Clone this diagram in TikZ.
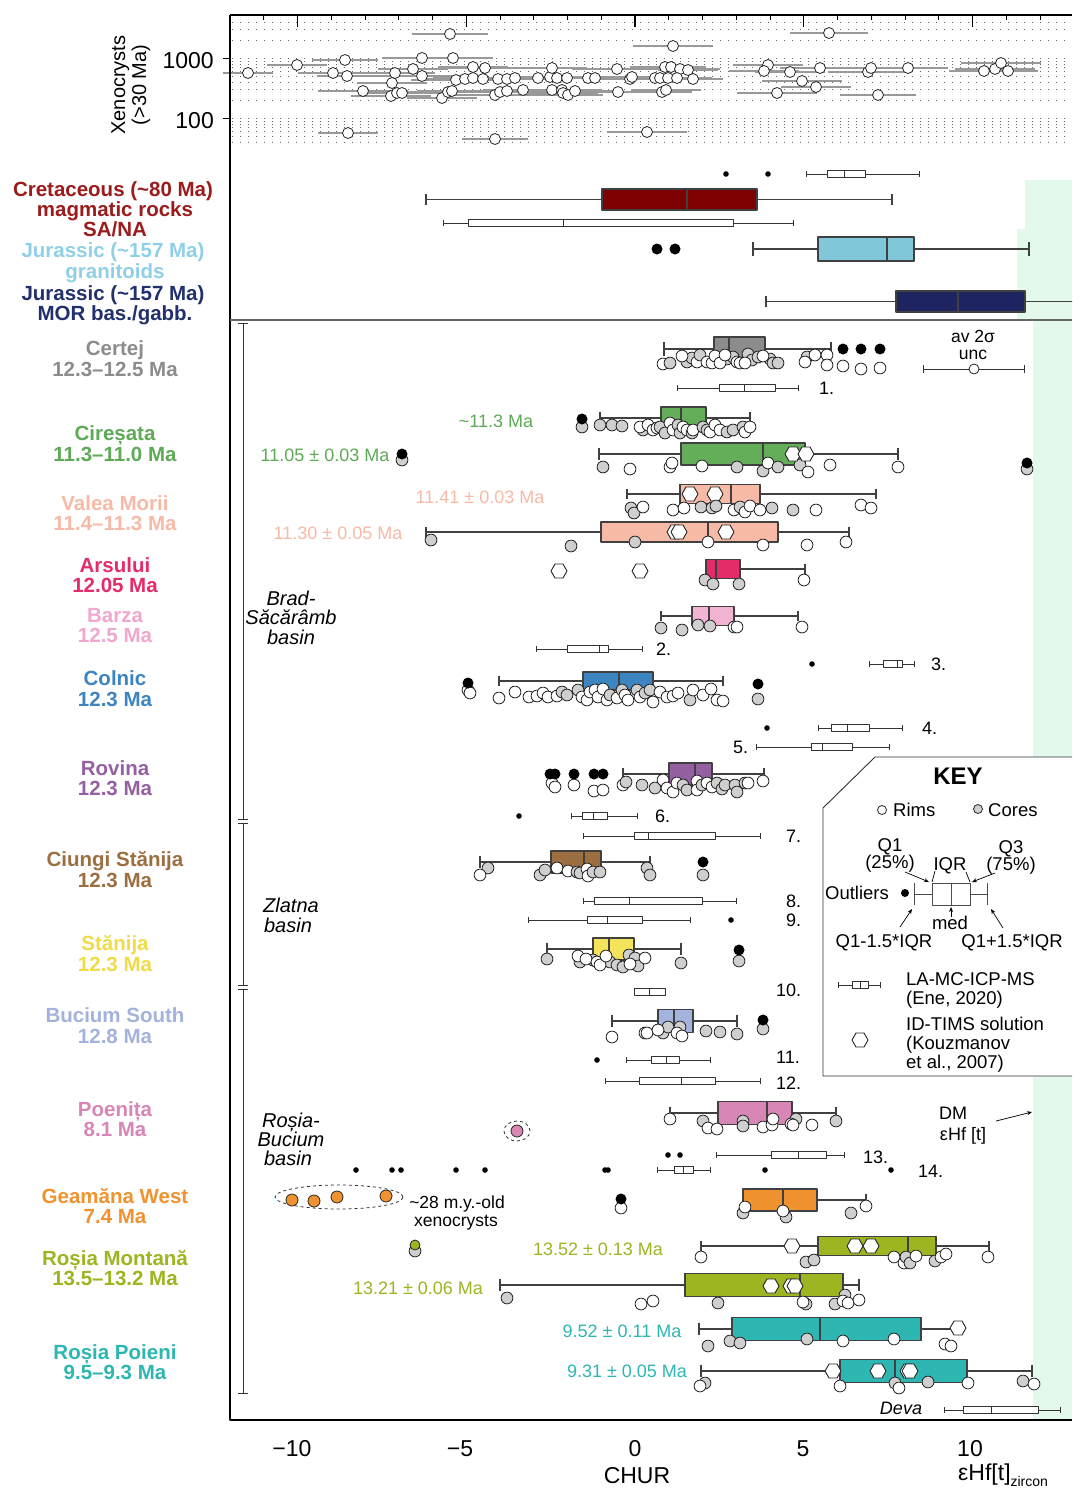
\documentclass[tikz,border=0pt]{standalone}
\usepackage{fontspec}
\setmainfont{Liberation Sans}
\usetikzlibrary{arrows.meta}
\definecolor{g}{HTML}{CFCFCF}
\colorlet{w}{white}
\definecolor{band}{HTML}{E2F9EC}
\definecolor{cCertej}{HTML}{8C8C8C}
\definecolor{cCir}{HTML}{64AD59}
\definecolor{tCir}{HTML}{5EAA56}
\definecolor{cVal}{HTML}{F6BAA6}
\definecolor{cArs}{HTML}{E42D68}
\definecolor{cBar}{HTML}{F3B4D4}
\definecolor{tBar}{HTML}{F0A8CE}
\definecolor{cCol}{HTML}{3D85C0}
\definecolor{cRov}{HTML}{9560A2}
\definecolor{cCiu}{HTML}{9D6E40}
\definecolor{cSta}{HTML}{F3E45C}
\definecolor{tSta}{HTML}{F0DC48}
\definecolor{cBuc}{HTML}{A3B3DD}
\definecolor{cPoe}{HTML}{D786B6}
\definecolor{cGea}{HTML}{F0922F}
\definecolor{cRM}{HTML}{9DB521}
\definecolor{cRP}{HTML}{2EB6B3}
\definecolor{cCre}{HTML}{7F0000}
\definecolor{tCre}{HTML}{9B1C1C}
\definecolor{cJg}{HTML}{80C7DA}
\definecolor{tJg}{HTML}{8FD0E6}
\definecolor{cJm}{HTML}{1D2460}
\definecolor{tJm}{HTML}{22306E}
\tikzset{
  T/.style={inner sep=0pt, anchor=base, font=\fontsize{#1}{#1}\selectfont},
  B/.style={inner sep=0pt, anchor=base, font=\fontsize{#1}{#1}\selectfont\bfseries},
  It/.style={inner sep=0pt, anchor=base, font=\fontsize{#1}{#1}\selectfont\itshape},
  bpl/.style={draw=black!75, line width=1.1pt},
  lal/.style={draw=black!80, line width=0.8pt},
  pt/.style={draw=black!85, line width=0.8pt},
  hx/.style={draw=black!85, line width=0.9pt, fill=white},
  axisline/.style={draw=black, line width=1.2pt},
  gridl/.style={draw=black!60, line width=0.9pt, dash pattern=on 1pt off 7pt},
  xbar/.style={draw=black!40, line width=1.8pt},
  thinarrow/.style={draw=black, line width=0.7pt, -{Stealth[length=5pt,width=4pt]}}
}
\newcommand\mybp[8]{%
  \draw[bpl] (#2,#1) -- (#3,#1) (#5,#1) -- (#6,#1)
    (#2,{#1-#7*0.55}) -- (#2,{#1+#7*0.55}) (#6,{#1-#7*0.55}) -- (#6,{#1+#7*0.55});
  \draw[bpl, fill=#8] (#3,{#1-#7}) rectangle (#5,{#1+#7});
  \draw[bpl] (#4,{#1-#7}) -- (#4,{#1+#7});}
\newcommand\myla[6]{%
  \draw[lal] (#2,#1) -- (#3,#1) (#5,#1) -- (#6,#1)
    (#2,{#1-2.6}) -- (#2,{#1+2.6}) (#6,{#1-2.6}) -- (#6,{#1+2.6});
  \draw[lal, fill=white] (#3,{#1-3.8}) rectangle (#5,{#1+3.8});
  \draw[lal] (#4,{#1-3.8}) -- (#4,{#1+3.8});}
\newcommand\myhex[2]{\draw[hx] ({#1-8},#2) -- ({#1-4},{#2-7}) -- ({#1+4},{#2-7}) -- ({#1+8},#2) -- ({#1+4},{#2+7}) -- ({#1-4},{#2+7}) -- cycle;}
\newcommand\mybd[2]{\fill (#1,#2) circle (5.5pt);}
\newcommand\mysd{}
\renewcommand\mysd[2]{\fill (#1,#2) circle (2.8pt);}
\newcommand\mypts[1]{\foreach \a/\b/\c in {#1} {\draw[pt, fill=\c] (\a,\b) circle (5.9pt);}}
\begin{document}
\begin{tikzpicture}[x=1pt,y=-1pt,line join=round]
\useasboundingbox (0,0) rectangle (1072,1489);
\clip (0,0) rectangle (1072,1489);
\fill[white] (0,0) rectangle (1072,1489);
% DM band
\fill[band] (1025,180) rectangle (1072,229);
\fill[band] (1017,229) rectangle (1072,320);
\fill[band] (1033,320) rectangle (1072,1420);
% ---------- top panel (xenocrysts) ----------
\foreach \v in {40,50,60,70,80,90,100,200,300,400,500,600,700,800,900,1000,2000,3000,4000}
  {\draw[gridl] (232,{118.5-60*log10(\v/100)}) -- (1072,{118.5-60*log10(\v/100)});}
\foreach \a/\b/\h in {450/34/38,248/73/25,297/65/30,345/60/33,333/73/35,347/76/30,363/91/45,395/73/40,392/83/35,391/96/40,397/93/35,402/93/40,413/69/35,422/58/40,422/76/45,442/98/35,448/92/40,452/91/35,453/58/40,456/80/45,465/79/40,473/67/35,473/78/40,483/79/35,485/68/40,495/95/40,498/79/35,500/92/40,507/91/35,507/79/40,515/78/35,523/90/40,538/78/35,550/77/40,552/68/35,552/90/45,557/78/35,562/90/40,563/93/35,567/78/40,568/95/35,575/91/40,588/78/35,595/78/40,617/69/45,618/92/40,630/79/40,632/77/35,647/132/40,348/133/30,495/139/33,829/33/39,673/46/40,665/67/35,671/67/35,680/69/40,688/70/30,655/78/30,660/78/35,668/78/35,677/78/35,693/79/30,662/92/30,666/90/35,768/65/35,764/71/35,790/72/35,820/68/40,802/81/40,816/87/35,777/93/40,868/72/40,871/68/30,908/68/40,878/95/38,984/71/35,995/69/40,1001/63/40,1008/71/30}
  {\draw[xbar] ({\a-\h},\b) -- ({\a+\h},\b);}
\foreach \a/\b in {450/34,248/73,297/65,345/60,333/73,347/76,363/91,395/73,392/83,391/96,397/93,402/93,413/69,422/58,422/76,442/98,448/92,452/91,453/58,456/80,465/79,473/67,473/78,483/79,485/68,495/95,498/79,500/92,507/91,507/79,515/78,523/90,538/78,550/77,552/68,552/90,557/78,562/90,563/93,567/78,568/95,575/91,588/78,595/78,617/69,618/92,630/79,632/77,647/132,348/133,495/139,829/33,673/46,665/67,671/67,680/69,688/70,655/78,660/78,668/78,677/78,693/79,662/92,666/90,768/65,764/71,790/72,820/68,802/81,816/87,777/93,868/72,871/68,908/68,878/95,984/71,995/69,1001/63,1008/71}
  {\draw[pt, fill=white] (\a,\b) circle (5.5pt);}
% axes
\draw[axisline] (230,15) -- (1072,15);
\draw[axisline] (230,15) -- (230,1420) -- (1072,1420);
\foreach \v in {-11,...,12} {\draw[axisline, line width=0.9pt] ({635+33.75*\v},15) -- ({635+33.75*\v},20);}
\foreach \v in {-10,-5,0,5,10} {\draw[axisline] ({635+33.75*\v},15) -- ({635+33.75*\v},27);}
\foreach \v in {58.5,118.5} {\draw[axisline] (223,\v) -- (230,\v);}
\node[T=23, anchor=base east] (y1000) at (214,68) {1000};
\node[T=23, anchor=base east] (y100) at (214,128) {100};
\node[T=20, rotate=90] (ylab1) at (125,85) {Xenocrysts};
\node[T=20, rotate=90] (ylab2) at (146,85) {(>30 Ma)};
% ---------- middle panel ----------
\myla{174}{806}{827}{844}{865}{919}
\mysd{726}{174} \mysd{768}{174}
\mybp{199.5}{426}{602}{687}{757}{892}{10.5}{cCre}
\myla{223}{443}{468}{563}{733}{793}
\mybp{249}{753}{818}{887}{914}{1029}{12}{cJg}
\mybd{657}{249} \mybd{675}{249}
\mybp{301.5}{766}{896}{958}{1025}{1090}{10.5}{cJm}
\draw[draw=black!60, line width=1.4pt] (230,320) -- (1072,320);
% ---------- left labels ----------
\node[B=20.5, text=tCre] (l1) at (113,196) {Cretaceous (\textasciitilde80 Ma)};
\node[B=20.5, text=tCre] (l2) at (115,216) {magmatic rocks};
\node[B=20.5, text=tCre] (l3) at (115,236) {SA/NA};
\node[B=20.5, text=tJg] (l4) at (113,257) {Jurassic (\textasciitilde157 Ma)};
\node[B=20.5, text=tJg] (l5) at (115,278) {granitoids};
\node[B=20.5, text=tJm] (l6) at (113,300) {Jurassic (\textasciitilde157 Ma)};
\node[B=20.5, text=tJm] (l7) at (115,320) {MOR bas./gabb.};
\node[B=20.5, text=cCertej] (s1a) at (115,355) {Certej};
\node[B=20.5, text=cCertej] (s1b) at (115,376) {12.3–12.5 Ma};
\node[B=20.5, text=tCir] (s2a) at (115,440) {Cireșata};
\node[B=20.5, text=tCir] (s2b) at (115,461) {11.3–11.0 Ma};
\node[B=20.5, text=cVal] (s3a) at (115,510) {Valea Morii};
\node[B=20.5, text=cVal] (s3b) at (115,530) {11.4–11.3 Ma};
\node[B=20.5, text=cArs] (s4a) at (115,572) {Arsului};
\node[B=20.5, text=cArs] (s4b) at (115,592) {12.05 Ma};
\node[B=20.5, text=tBar] (s5a) at (115,622) {Barza};
\node[B=20.5, text=tBar] (s5b) at (115,642) {12.5 Ma};
\node[B=20.5, text=cCol] (s6a) at (115,685) {Colnic};
\node[B=20.5, text=cCol] (s6b) at (115,706) {12.3 Ma};
\node[B=20.5, text=cRov] (s7a) at (115,775) {Rovina};
\node[B=20.5, text=cRov] (s7b) at (115,795) {12.3 Ma};
\node[B=20.5, text=cCiu] (s8a) at (115,866) {Ciungi Stănija};
\node[B=20.5, text=cCiu] (s8b) at (115,887) {12.3 Ma};
\node[B=20.5, text=tSta] (s9a) at (115,950) {Stănija};
\node[B=20.5, text=tSta] (s9b) at (115,971) {12.3 Ma};
\node[B=20.5, text=cBuc] (s10a) at (115,1022) {Bucium South};
\node[B=20.5, text=cBuc] (s10b) at (115,1043) {12.8 Ma};
\node[B=20.5, text=cPoe] (s11a) at (115,1116) {Poenița};
\node[B=20.5, text=cPoe] (s11b) at (115,1136) {8.1 Ma};
\node[B=20.5, text=cGea] (s12a) at (115,1203) {Geamăna West};
\node[B=20.5, text=cGea] (s12b) at (115,1223) {7.4 Ma};
\node[B=20.5, text=cRM] (s13a) at (115,1265) {Roșia Montană};
\node[B=20.5, text=cRM] (s13b) at (115,1285) {13.5–13.2 Ma};
\node[B=20.5, text=cRP] (s14a) at (115,1359) {Roșia Poieni};
\node[B=20.5, text=cRP] (s14b) at (115,1379) {9.5–9.3 Ma};
% basin bracket
\draw[draw=black!80, line width=1pt] (243,323) -- (243,819) (243,823) -- (243,985) (243,989) -- (243,1393);
\draw[draw=black!80, line width=1pt] (238,323) -- (248,323) (238,819) -- (248,819) (238,823) -- (248,823) (238,985) -- (248,985) (238,989) -- (248,989) (238,1393) -- (248,1393);
\node[It=20] (b1) at (291,605) {Brad-};
\node[It=20] (b2) at (291,624) {Săcărâmb};
\node[It=20] (b3) at (291,644) {basin};
\node[It=20] (b4) at (291,912) {Zlatna};
\node[It=20] (b5) at (288,932) {basin};
\node[It=20] (b6) at (291,1127) {Roșia-};
\node[It=20] (b7) at (291,1146) {Bucium};
\node[It=20] (b8) at (288,1165) {basin};
% ---------- Certej ----------
\mybp{349}{664}{714}{729}{765}{831}{12}{cCertej}
\mypts{663/364/w,670/363/g,687/362/g,692/358/g,682/356/w,697/362/w,700/355/g,707/362/w,712/363/w,727/359/g,715/356/w,720/363/w,733/357/g,725/355/w,737/362/w,748/354/g,752/360/g,740/363/w,745/363/w,758/357/g,770/359/g,773/363/g,778/363/g,763/356/w,807/357/g,805/362/w,815/355/w,827/355/w,827/365/w,843/366/w,861/369/w,880/368/w}
\mybd{843}{349} \mybd{861}{349} \mybd{880}{349}
\node[T=17.5] (avs) at (973,342) {av 2σ};
\node[T=17.5] (unc) at (973,359) {unc};
\draw[lal] (923,369) -- (1024,369) (923,365) -- (923,373) (1024,365) -- (1024,373);
\draw[pt, fill=white] (974,369) circle (5pt);
\myla{388}{677}{719}{744}{775}{798}
\node[T=18, anchor=base west] (n1) at (819,394) {1.};
% ---------- Ciresata ----------
\node[T=18, text=tCir] (a0) at (496,427) {\textasciitilde11.3 Ma};
\mybp{418}{600}{661}{681}{706}{750}{11}{cCir}
\mypts{582/427/g,600/425/g,612/425/g,622/426/g,643/430/g,640/427/w,648/425/w,653/430/w,657/428/w,660/427/g,665/433/g,670/423/w,673/430/w,678/425/g,680/433/g,683/427/w,687/430/w,692/433/g,693/430/w,703/427/g,707/430/g,710/432/w,715/425/w,720/430/w,727/432/g,733/430/g,743/427/g,745/432/w,750/427/w}
\mybd{582}{419}
\node[T=18, text=tCir] (a1) at (325,461) {11.05 ± 0.03 Ma};
\mybp{454}{599}{681}{763}{805}{898}{11}{cCir}
\mypts{603/467/g,630/469/w,670/467/w,672/463/w,702/466/w,737/467/g,763/471/g,768/463/w,778/467/g,800/465/g,808/472/w,830/465/w,898/467/w,402/460/g,1027/469/g}
\mybd{402}{454} \mybd{1027}{463}
\myhex{793}{454} \myhex{806}{454}
% ---------- Valea Morii ----------
\node[T=18, text=cVal] (a2) at (480,503) {11.41 ± 0.03 Ma};
\mybp{494}{627}{680}{731}{760}{876}{9.5}{cVal}
\myhex{690}{494} \myhex{715}{494}
\mypts{631/508/g,634/513/g,643/507/w,673/510/w,684/508/w,701/507/g,712/508/g,716/506/g,734/510/w,740/507/g,745/512/w,750/506/w,760/510/w,772/508/g,793/510/g,816/510/w,861/505/w,871/508/w}
\node[T=18, text=cVal] (a3) at (338,539) {11.30 ± 0.05 Ma};
\mybp{532}{426}{601}{708}{778}{849}{10}{cVal}
\myhex{675}{532} \myhex{679}{532} \myhex{726}{532}
\mypts{431/540/g,571/546/g,635/542/g,708/542/w,763/545/w,807/545/w,846/542/w}
% ---------- Arsului ----------
\mybp{569}{706}{706}{716}{740}{805}{9.5}{cArs}
\myhex{559}{571} \myhex{640}{571}
\mypts{705/580/g,713/584/g,739/584/g,804/580/w}
% ---------- Barza ----------
\mybp{616}{661}{692}{709}{734}{798}{9.5}{cBar}
\mypts{661/628/g,682/630/g,698/625/g,710/626/g,734/627/w,737/627/w,802/627/w}
\myla{649}{536}{567}{599}{608}{642}
\node[T=18, anchor=base west] (n2) at (656,655) {2.};
\mysd{812}{664}
\myla{664}{869}{883}{897}{902}{914}
\node[T=18, anchor=base west] (n3) at (931,670) {3.};
% ---------- Colnic ----------
\mybp{681}{499}{583}{619}{653}{723}{9}{cCol}
\mypts{499/698/w,515/692/w,529/697/w,537/696/w,543/693/w,548/697/w,557/696/w,562/692/g,567/695/g,578/690/g,582/697/w,587/700/w,590/692/w,595/690/w,598/697/w,603/689/w,607/700/w,610/695/g,617/698/w,622/690/g,625/695/w,628/700/w,637/690/g,640/697/w,645/693/g,650/690/g,653/702/w,660/692/w,667/697/w,673/696/w,678/693/w,690/700/g,693/690/w,703/695/w,711/689/w,717/700/w,723/701/w,468/690/w,470/693/w,758/699/g}
\mybd{468}{683} \mybd{758}{684}
\mysd{767}{728}
\myla{728}{818}{831}{847}{869}{902}
\node[T=18, anchor=base west] (n4) at (922,734) {4.};
\myla{747}{756}{811}{822}{852}{889}
\node[T=18, anchor=base west] (n5) at (733,753) {5.};
% ---------- Rovina ----------
\mybp{774}{623}{669}{695}{712}{764}{11}{cRov}
\mypts{623/785/w,626/782/g,642/785/g,655/788/g,663/780/w,667/788/w,673/792/w,677/783/w,683/785/g,687/790/g,697/781/w,697/790/w,702/785/g,707/783/w,712/787/w,717/783/g,722/789/g,725/785/g,735/785/g,737/792/g,745/783/g,748/783/w,763/781/w,552/783/w,555/787/w,574/785/w,594/791/w,603/790/w}
\mybd{550}{774} \mybd{555}{774} \mybd{574}{774} \mybd{594}{774} \mybd{603}{774}
\mysd{519}{816}
\myla{816}{571}{582}{593}{607}{637}
\node[T=18, anchor=base west] (n6) at (655,822) {6.};
\myla{836}{583}{634}{648}{715}{760}
\node[T=18, anchor=base west] (n7) at (786,842) {7.};
% ---------- Ciungi Stanija ----------
\mybp{862}{480}{551}{584}{601}{650}{11}{cCiu}
\mypts{488/868/g,480/875/w,540/875/g,545/870/g,557/868/w,568/871/w,577/872/g,580/873/g,587/869/w,588/876/w,593/872/g,600/872/g,647/868/g,650/875/g,703/875/g}
\mybd{703}{862}
\myla{901}{583}{594}{629}{702}{736}
\node[T=18, anchor=base west] (n8) at (786,907) {8.};
\mysd{731}{920}
\myla{920}{528}{587}{607}{642}{690}
\node[T=18, anchor=base west] (n9) at (786,926) {9.};
% ---------- Stanija ----------
\mybp{949}{547}{593}{609}{634}{681}{11}{cSta}
\mypts{547/959/g,580/962/g,578/956/w,593/960/g,586/959/w,610/962/g,597/962/w,600/965/w,617/965/g,623/967/g,606/956/w,629/955/g,635/958/g,638/966/g,630/964/w,645/958/w,681/963/g,739/961/g}
\mybd{739}{950}
\myla{992}{634}{634}{649}{665}{665}
\node[T=18, anchor=base west] (n10) at (776,996) {10.};
% ---------- Bucium South ----------
\mybp{1021}{612}{658}{674}{693}{737}{11.5}{cBuc}
\mypts{612/1037/w,645/1033/w,647/1033/w,663/1033/g,668/1027/g,680/1027/g,658/1030/w,677/1033/w,682/1036/w,706/1031/g,720/1032/g,737/1034/g,763/1029/g}
\mybd{763}{1020}
\mysd{597}{1060}
\myla{1060}{626}{651}{666}{679}{710}
\node[T=18, anchor=base west] (n11) at (776,1063) {11.};
\myla{1081}{605}{639}{681}{715}{760}
\node[T=18, anchor=base west] (n12) at (776,1089) {12.};
% ---------- Poenita ----------
\mybp{1113}{670}{718}{767}{792}{836}{11.5}{cPoe}
\mypts{670/1119/w,703/1121/g,743/1121/g,743/1126/g,708/1128/w,717/1129/w,763/1127/w,772/1125/w,773/1119/w,796/1119/g,791/1124/w,793/1125/w,812/1125/w,836/1121/g}
\draw[pt, fill=cPoe] (517,1131) circle (6pt);
\draw[draw=black!80, line width=0.8pt, dashed] (517,1131) ellipse [x radius=13pt, y radius=10pt];
\mysd{668}{1155} \mysd{680}{1155}
\myla{1155}{716}{771}{798}{826}{844}
\node[T=18, anchor=base west] (n13) at (863,1163) {13.};
\foreach \a in {356,392,401,456,485,605,608,765,891} {\mysd{\a}{1170}}
\myla{1170}{657}{674}{683}{693}{710}
\node[T=18, anchor=base west] (n14) at (918,1177) {14.};
% ---------- Geamana West ----------
\mybp{1200}{743}{743}{783}{817}{866}{11}{cGea}
\mypts{743/1213/g,745/1207/w,786/1217/g,783/1211/w,851/1213/g,866/1206/w,621/1208/w}
\mybd{621}{1199}
\draw[draw=black!80, line width=0.8pt, dashed] (339,1197) ellipse [x radius=64pt, y radius=12pt];
\foreach \a/\b in {292/1200,314/1201,337/1197,386/1196} {\draw[pt, fill=cGea] (\a,\b) circle (6pt);}
\node[T=17.5] (xn1) at (457,1208) {\textasciitilde28 m.y.-old};
\node[T=17.5] (xn2) at (456,1226) {xenocrysts};
% ---------- Rosia Montana ----------
\node[T=18, text=cRM] (a4) at (598,1255) {13.52 ± 0.13 Ma};
\mybp{1246}{701}{818}{908}{936}{989}{9.5}{cRM}
\myhex{792}{1246} \myhex{855}{1246} \myhex{871}{1246}
\mypts{701/1257/w,806/1262/g,814/1260/g,894/1257/w,904/1263/w,906/1257/g,910/1263/g,916/1256/w,935/1261/g,941/1257/w,946/1254/w,988/1257/w,415/1251/g}
\draw[pt, fill=cRM] (415,1245) circle (5pt);
\node[T=18, text=cRM] (a5) at (418,1294) {13.21 ± 0.06 Ma};
\mybp{1285}{500}{685}{800}{843}{859}{11.5}{cRM}
\myhex{771}{1286} \myhex{791}{1286} \myhex{795}{1286}
\mypts{507/1298/g,641/1304/w,653/1301/w,718/1303/g,806/1304/g,803/1302/w,835/1304/g,845/1295/g,843/1301/w,848/1303/w,859/1300/w}
% ---------- Rosia Poieni ----------
\node[T=18, text=cRP] (a6) at (622,1337) {9.52 ± 0.11 Ma};
\mybp{1329}{699}{732}{820}{921}{958}{11.5}{cRP}
\myhex{958}{1328}
\mypts{708/1346/g,730/1341/g,740/1343/g,807/1339/g,843/1341/w,894/1339/w,945/1344/w,951/1346/w}
\node[T=18, text=cRP] (a7) at (627,1377) {9.31 ± 0.05 Ma};
\mybp{1371}{701}{840}{895}{967}{1032}{11.5}{cRP}
\myhex{833}{1371} \myhex{878}{1371} \myhex{908}{1371} \myhex{910}{1371}
\mypts{705/1383/g,700/1386/w,840/1386/w,895/1383/g,899/1388/w,928/1382/g,968/1383/w,1023/1381/g,1034/1384/w}
\node[It=18] (deva) at (901,1414) {Deva};
\myla{1410}{944}{963}{991}{1038}{1060}
% DM label
\node[T=18] (dm1) at (953,1119) {DM};
\node[T=18] (dm2) at (963,1140) {εHf [t]};
\coordinate (dmtip) at (1032,1112);
\draw[thinarrow] (996,1121) -- (dmtip);
% ---------- KEY ----------
\draw[draw=black!80, line width=0.9pt, fill=white] (1080,757) -- (875,757) -- (823,808) -- (823,1076) -- (1080,1076);
\node[B=24] (key) at (958,784) {KEY};
\draw[pt, fill=white] (882,810) circle (4.5pt);
\node[T=18.5, anchor=base west] (rims) at (893,816) {Rims};
\draw[pt, fill=g] (978,809) circle (4.5pt);
\node[T=18.5, anchor=base west] (cores) at (988,816) {Cores};
\node[T=18.5] (q1) at (890,851) {Q1};
\node[T=18.5] (q1b) at (890,868) {(25\%)};
\node[T=18.5] (iqr) at (950,870) {IQR};
\node[T=18.5] (q3) at (1011,853) {Q3};
\node[T=18.5] (q3b) at (1011,870) {(75\%)};
\node[T=18.5] (outl) at (857,899) {Outliers};
\fill (905,893) circle (4pt);
\draw[draw=black!70, line width=1pt] (914,894) -- (932,894) (970,894) -- (987,894) (914,883) -- (914,905) (987,883) -- (987,905);
\draw[draw=black!70, line width=1pt] (932,883) rectangle (970,905) (951,883) -- (951,905);
\draw[thinarrow] (905,872) -- (929,882);
\draw[thinarrow] (995,873) -- (972,882);
\draw[draw=black, line width=0.7pt] (935,871) -- (932,882) (966,872) -- (970,882);
\draw[thinarrow] (951,917) -- (951,907);
\node[T=18.5] (med) at (950,929) {med};
\draw[thinarrow] (900,927) -- (912,909);
\draw[thinarrow] (1003,928) -- (991,909);
\node[T=18.5] (qa) at (884,947) {Q1-1.5*IQR};
\node[T=18.5] (qb) at (1012,947) {Q1+1.5*IQR};
\myla{985}{838}{852}{860}{868}{880}
\node[T=18.5, anchor=base west] (la1) at (906,985) {LA-MC-ICP-MS};
\node[T=18.5, anchor=base west] (la2) at (906,1004) {(Ene, 2020)};
\myhex{860}{1040}
\node[T=18.5, anchor=base west] (id1) at (906,1030) {ID-TIMS solution};
\node[T=18.5, anchor=base west] (id2) at (906,1049) {(Kouzmanov};
\node[T=18.5, anchor=base west] (id3) at (906,1068) {et al., 2007)};
% ---------- x axis labels ----------
\node[T=23] (xm10) at (292,1456) {−10};
\node[T=23] (xm5) at (460,1456) {−5};
\node[T=23] (x0) at (635,1456) {0};
\node[T=23] (x5) at (803,1456) {5};
\node[T=23] (x10) at (970,1456) {10};
\node[T=23] (chur) at (637,1483) {CHUR};
\node[inner sep=0pt, anchor=base west] (ehf) at (958,1480) {\fontsize{23}{23}\selectfont εHf[t]\raisebox{-6pt}{\fontsize{14}{14}\selectfont zircon}};
\end{tikzpicture}
\end{document}
